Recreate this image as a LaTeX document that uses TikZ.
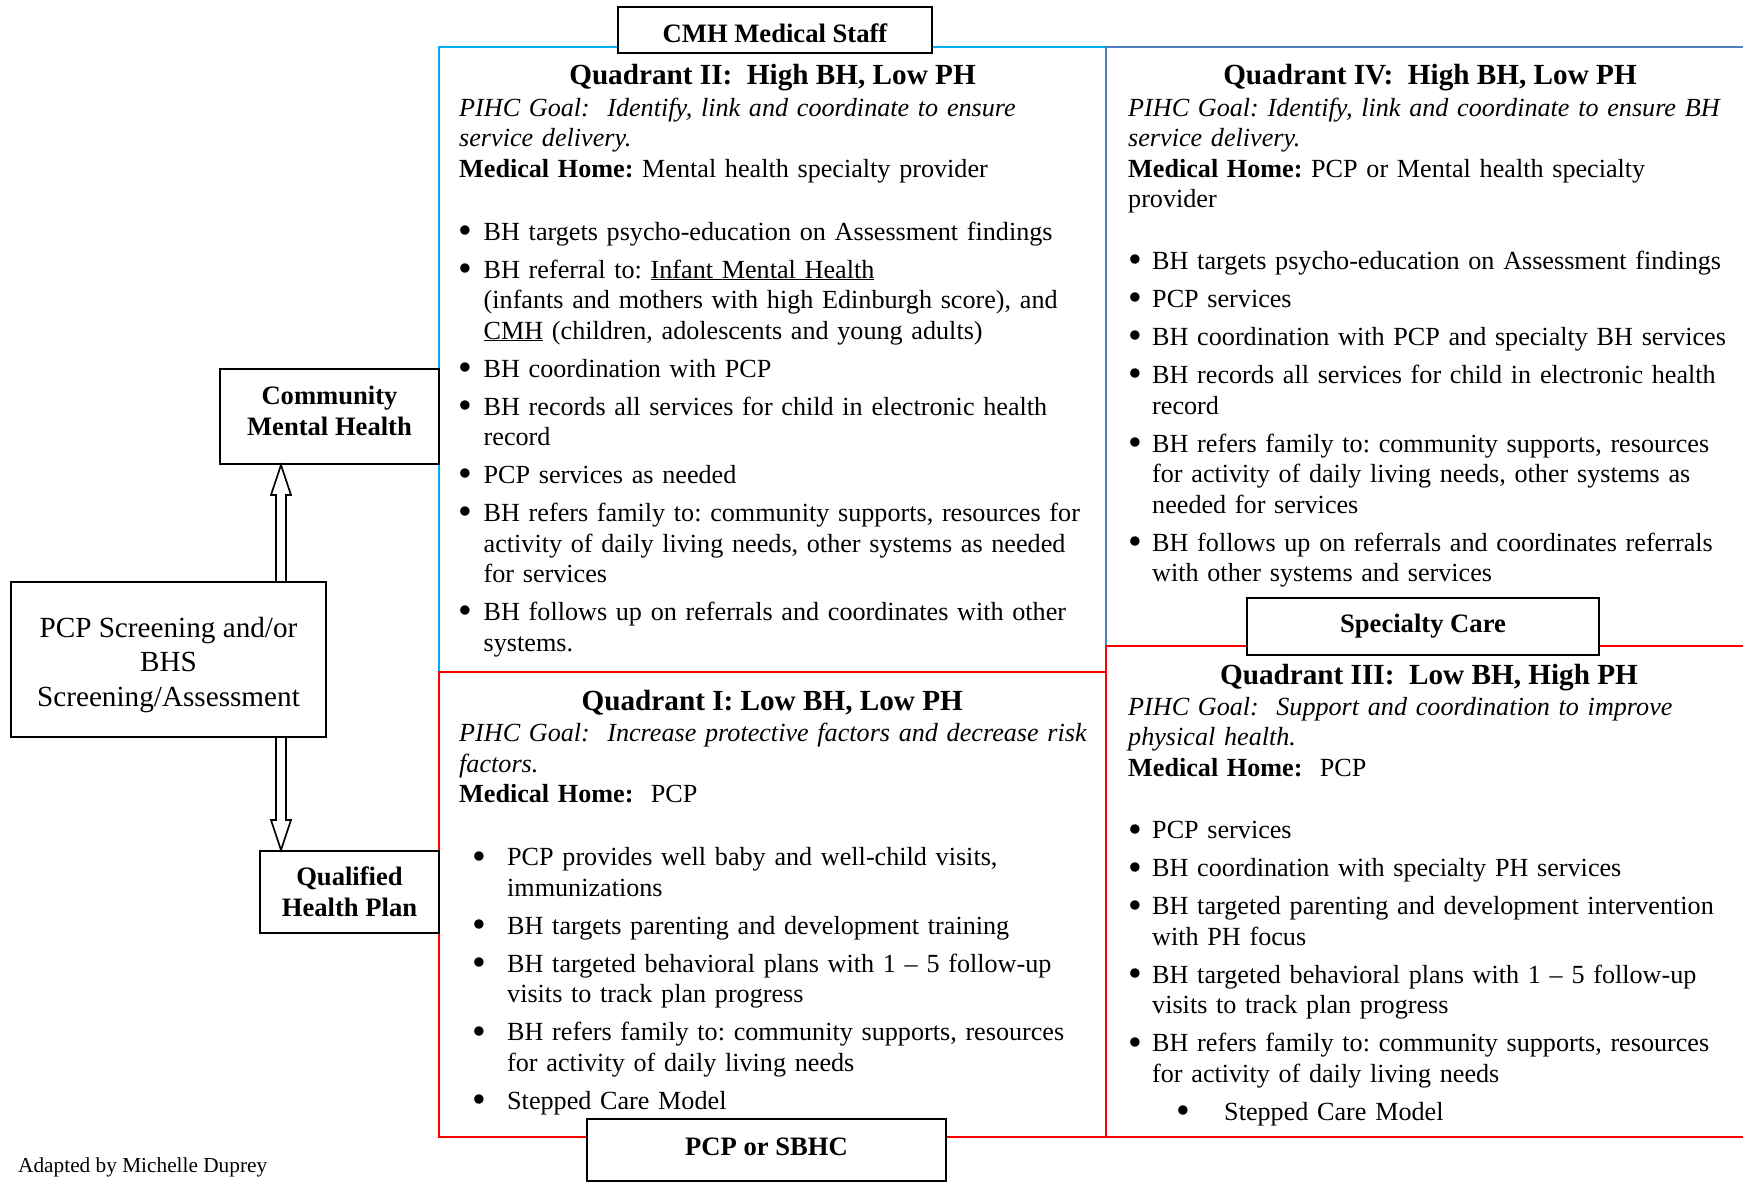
\documentclass[tikz,border=0pt]{standalone}
\usepackage{fontspec}
\setmainfont{Liberation Serif}
\usetikzlibrary{calc}

\definecolor{qcyan}{RGB}{0,176,240}
\definecolor{qsteel}{RGB}{79,129,189}
\definecolor{qred}{RGB}{255,0,0}

% bullet line: #1 bullet centre offset, #2 hanging indent, #3 text
\newcommand{\qbullet}{\raisebox{-3.4pt}{\scalebox{1.5}{\textbullet}}}
\newcommand{\qitem}[3]{\par\vskip 7.5pt\hangindent=#2\hangafter=1\noindent\makebox[#2][l]{\hspace*{#1}\makebox[0pt]{\qbullet}}#3}

\tikzset{%
  quad/.style={line width=2.5pt},%
  lbl/.style={draw, line width=2pt, fill=white, inner sep=0pt, align=center,%
              font=\fontsize{26.6}{31}\selectfont\bfseries},%
  qhead/.style={anchor=base, inner sep=0pt, font=\fontsize{29.2}{34}\selectfont\bfseries},%
  qbody/.style={anchor=base west, inner sep=0pt, text width=700pt,%
                font=\fontsize{26.15}{30.5}\selectfont\frenchspacing},%
  barrow/.style={line width=1.6pt, line join=miter},%
}

\begin{document}
\begin{tikzpicture}[x=1pt, y=-1pt]%
\useasboundingbox (0,0) rectangle (1743,1183);%
% quadrant frames
\draw[quad, qcyan] (439,47) rectangle (1106,672);%
\draw[quad, qsteel] (1743,47) -| (1106,646);%
\draw[quad, qred] (439,672) rectangle (1106,1137);%
\draw[quad, qred] (1743,646) -| (1106,1137) -- (1743,1137);%
% boxes on the frames
\node[lbl, minimum width=314pt, minimum height=46pt] (staff) at (775,30) {\rule{0pt}{25pt}CMH Medical Staff};%
\node[lbl, minimum width=352pt, minimum height=57pt] (spec) at (1423,626.5) {Specialty Care};%
\node[lbl, minimum width=359pt, minimum height=62pt] (sbhc) at (766.5,1150) {PCP or SBHC\rule[-7pt]{0pt}{7pt}};%
\node[lbl, minimum width=219pt, minimum height=95pt] (cmh) at (329.5,416.5) {Community\\Mental Health\rule[-12pt]{0pt}{12pt}};%
\node[lbl, minimum width=315pt, minimum height=155pt, font=\fontsize{29.2}{34.5}\selectfont] (scr) at (168.5,659.5) {\rule{0pt}{30.5pt}PCP Screening and/or\\BHS\\Screening/Assessment};%
\node[lbl, minimum width=179pt, minimum height=82pt] (qhp) at (349.5,892) {Qualified\\Health Plan};%
% block arrows
\coordinate (ax) at (281,0);%
\draw[barrow] ($(ax|-scr.north)+(-5,0)$) -- ($(ax|-cmh.south)+(-5,30)$) -- ($(ax|-cmh.south)+(-10,30)$) -- (ax|-cmh.south) -- ($(ax|-cmh.south)+(10,30)$) -- ($(ax|-cmh.south)+(5,30)$) -- ($(ax|-scr.north)+(5,0)$);%
\draw[barrow] ($(ax|-scr.south)+(-5,0)$) -- ($(ax|-qhp.north)+(-5,-30)$) -- ($(ax|-qhp.north)+(-10,-30)$) -- (ax|-qhp.north) -- ($(ax|-qhp.north)+(10,-30)$) -- ($(ax|-qhp.north)+(5,-30)$) -- ($(ax|-scr.south)+(5,0)$);%
% quadrant II
\node[qhead] (q2head) at (772.5,84.5) {Quadrant II:~ High BH, Low PH};%
\node[qbody] (q2body) at (459,116) {%
  {\itshape PIHC Goal:~ Identify, link and coordinate to ensure\newline service delivery.}\newline
  \textbf{Medical Home:} Mental health specialty provider\par\vskip 25pt
  \qitem{6pt}{24.5pt}{BH targets psycho-education on Assessment findings}
  \qitem{6pt}{24.5pt}{BH referral to: \underline{Infant Mental Health}\newline (infants and mothers with high Edinburgh score), and\newline \underline{CMH} (children, adolescents and young adults)}
  \qitem{6pt}{24.5pt}{BH coordination with PCP}
  \qitem{6pt}{24.5pt}{BH records all services for child in electronic health\newline record}
  \qitem{6pt}{24.5pt}{PCP services as needed}
  \qitem{6pt}{24.5pt}{BH refers family to: community supports, resources for\newline activity of daily living needs, other systems as needed\newline for services}
  \qitem{6pt}{24.5pt}{BH follows up on referrals and coordinates with other\newline systems.}\par};%
% quadrant IV
\node[qhead] (q4head) at (1430,84.5) {Quadrant IV:~ High BH, Low PH};%
\node[qbody] (q4body) at (1128,116) {%
  {\itshape PIHC Goal: Identify, link and coordinate to ensure BH\newline service delivery.}\newline
  \textbf{Medical Home:} PCP or Mental health specialty\newline provider\par\vskip 24pt
  \qitem{7pt}{24pt}{BH targets psycho-education on Assessment findings}
  \qitem{7pt}{24pt}{PCP services}
  \qitem{7pt}{24pt}{BH coordination with PCP and specialty BH services}
  \qitem{7pt}{24pt}{BH records all services for child in electronic health\newline record}
  \qitem{7pt}{24pt}{BH refers family to: community supports, resources\newline for activity of daily living needs, other systems as\newline needed for services}
  \qitem{7pt}{24pt}{BH follows up on referrals and coordinates referrals\newline with other systems and services}\par};%
% quadrant I
\node[qhead] (q1head) at (772.3,710.5) {Quadrant I: Low BH, Low PH};%
\node[qbody] (q1body) at (459,741.8) {%
  {\itshape PIHC Goal:~ Increase protective factors and decrease risk\newline factors.}\newline
  \textbf{Medical Home:}~ PCP\par\vskip 25pt
  \qitem{20pt}{48pt}{PCP provides well baby and well-child visits,\newline immunizations}
  \qitem{20pt}{48pt}{BH targets parenting and development training}
  \qitem{20pt}{48pt}{BH targeted behavioral plans with 1 -- 5 follow-up\newline visits to track plan progress}
  \qitem{20pt}{48pt}{BH refers family to: community supports, resources\newline for activity of daily living needs}
  \qitem{20pt}{48pt}{Stepped Care Model}\par};%
% quadrant III
\node[qhead] (q3head) at (1429,684.3) {Quadrant III:~ Low BH, High PH};%
\node[qbody] (q3body) at (1128,715.3) {%
  {\itshape PIHC Goal:~ Support and coordination to improve\newline physical health.}\newline
  \textbf{Medical Home:}~ PCP\par\vskip 24.5pt
  \qitem{7pt}{24pt}{PCP services}
  \qitem{7pt}{24pt}{BH coordination with specialty PH services}
  \qitem{7pt}{24pt}{BH targeted parenting and development intervention\newline with PH focus}
  \qitem{7pt}{24pt}{BH targeted behavioral plans with 1 -- 5 follow-up\newline visits to track plan progress}
  \qitem{7pt}{24pt}{BH refers family to: community supports, resources\newline for activity of daily living needs}
  \qitem{55pt}{96pt}{Stepped Care Model}\par};%
\node[anchor=base west, inner sep=0pt, font=\fontsize{21.3}{25}\selectfont] (credit) at (18,1172) {Adapted by Michelle Duprey};%
\end{tikzpicture}
\end{document}
